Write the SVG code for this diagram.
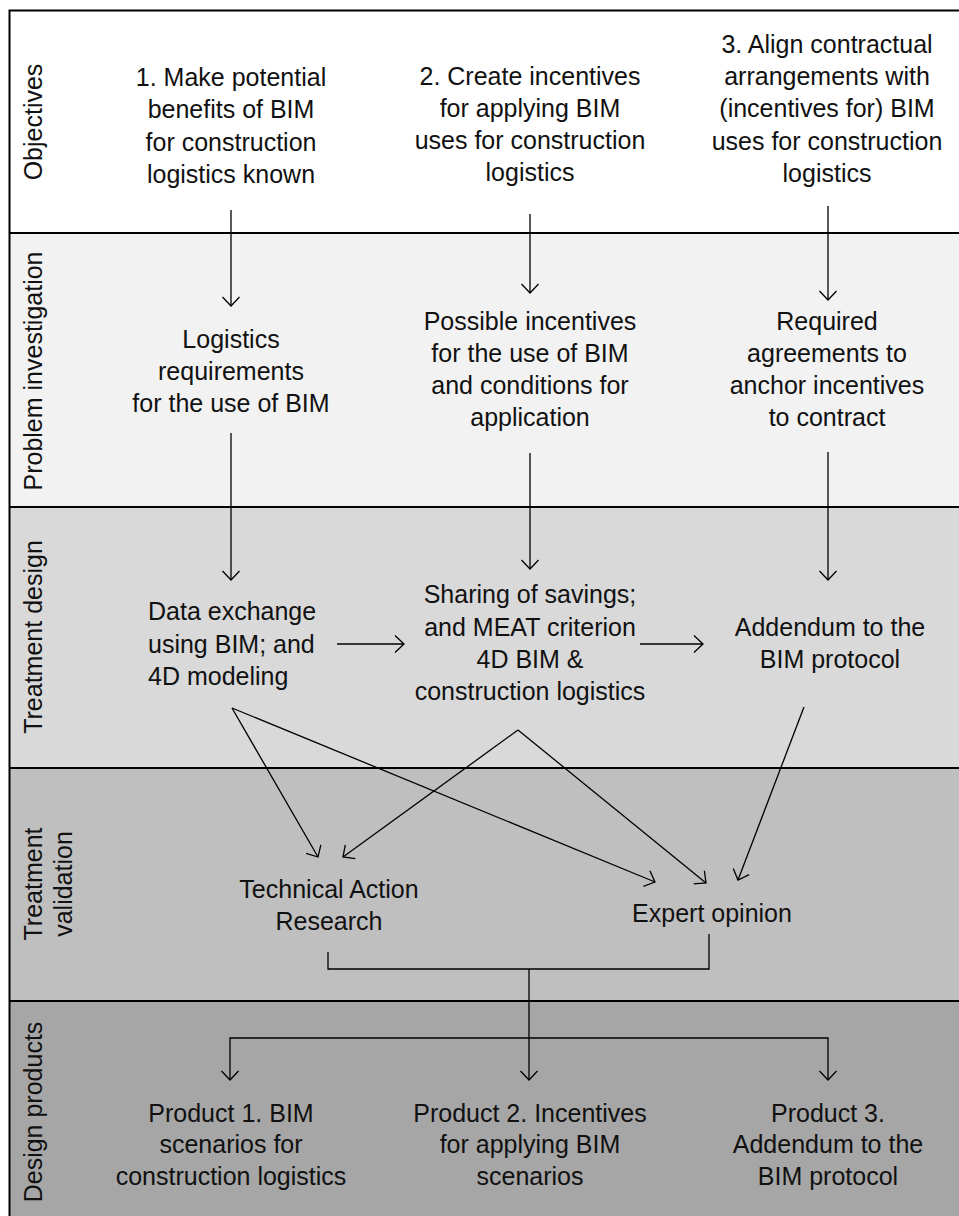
<svg xmlns="http://www.w3.org/2000/svg" width="959" height="1216" viewBox="0 0 959 1216">
  <style>
    .t { font-family: "Liberation Sans", Arial, sans-serif; font-size: 25px; fill: #111; text-anchor: middle; }
    .tl { font-family: "Liberation Sans", Arial, sans-serif; font-size: 25px; fill: #111; text-anchor: start; }
    .sep { stroke: #000; stroke-width: 2; fill: none; }
    .c { stroke: #000; stroke-width: 1.3; fill: none; }
    .a { stroke: #000; stroke-width: 1.3; fill: none; marker-end: url(#arr); }
  </style>
  <defs>
    <marker id="arr" markerUnits="userSpaceOnUse" viewBox="-12 -12 24 24" markerWidth="24" markerHeight="24" refX="0" refY="0" orient="auto">
      <path d="M-9,-8.5 L0,0 L-9,8.5" fill="none" stroke="#000" stroke-width="1.3"/>
    </marker>
  </defs>

  <rect width="959" height="1216" fill="#fff"/>

  <!-- horizontal bands -->
  <g id="bands">
    <rect x="10" y="10" width="960" height="223" fill="#ffffff"/>
    <rect x="10" y="233" width="960" height="274" fill="#f2f2f2"/>
    <rect x="10" y="507" width="960" height="261" fill="#d9d9d9"/>
    <rect x="10" y="768" width="960" height="233" fill="#bfbfbf"/>
    <rect x="10" y="1001" width="960" height="230" fill="#a6a6a6"/>
    <path class="sep" d="M9.5,1230 V10.5 H970"/>
    <path class="sep" d="M9.5,233 H970 M9.5,507 H970 M9.5,768 H970 M9.5,1001 H970"/>
  </g>

  <!-- band labels -->
  <g id="labels">
    <text class="t" transform="translate(42,122) rotate(-90)">Objectives</text>
    <text class="t" transform="translate(42,371) rotate(-90)">Problem investigation</text>
    <text class="t" transform="translate(42,637) rotate(-90)">Treatment design</text>
    <text class="t" transform="translate(42,884) rotate(-90)"><tspan x="0" y="0">Treatment</tspan><tspan x="0" y="30">validation</tspan></text>
    <text class="t" transform="translate(42,1112) rotate(-90)">Design products</text>
  </g>

  <!-- objectives -->
  <g id="obj1">
    <text class="t"><tspan x="231" y="86">1. Make potential</tspan><tspan x="231" y="118">benefits of BIM</tspan><tspan x="231" y="150.5">for construction</tspan><tspan x="231" y="183">logistics known</tspan></text>
  </g>
  <g id="obj2">
    <text class="t"><tspan x="530" y="85">2. Create incentives</tspan><tspan x="530" y="117">for applying BIM</tspan><tspan x="530" y="149">uses for construction</tspan><tspan x="530" y="181">logistics</tspan></text>
  </g>
  <g id="obj3">
    <text class="t"><tspan x="827" y="53">3. Align contractual</tspan><tspan x="827" y="85">arrangements with</tspan><tspan x="827" y="117">(incentives for) BIM</tspan><tspan x="827" y="149.5">uses for construction</tspan><tspan x="827" y="182">logistics</tspan></text>
  </g>

  <!-- problem investigation -->
  <g id="prob1">
    <text class="t"><tspan x="231" y="348">Logistics</tspan><tspan x="231" y="380">requirements</tspan><tspan x="231" y="412">for the use of BIM</tspan></text>
  </g>
  <g id="prob2">
    <text class="t"><tspan x="530" y="330">Possible incentives</tspan><tspan x="530" y="362">for the use of BIM</tspan><tspan x="530" y="394">and conditions for</tspan><tspan x="530" y="426">application</tspan></text>
  </g>
  <g id="prob3">
    <text class="t"><tspan x="827" y="330">Required</tspan><tspan x="827" y="362">agreements to</tspan><tspan x="827" y="394">anchor incentives</tspan><tspan x="827" y="426">to contract</tspan></text>
  </g>

  <!-- treatment design -->
  <g id="design1">
    <text class="tl"><tspan x="148" y="620">Data exchange</tspan><tspan x="148" y="653">using BIM; and</tspan><tspan x="148" y="685">4D modeling</tspan></text>
  </g>
  <g id="design2">
    <text class="t"><tspan x="530" y="603">Sharing of savings;</tspan><tspan x="530" y="636">and MEAT criterion</tspan><tspan x="530" y="668">4D BIM &amp;</tspan><tspan x="530" y="700">construction logistics</tspan></text>
  </g>
  <g id="design3">
    <text class="t"><tspan x="830" y="636">Addendum to the</tspan><tspan x="830" y="668">BIM protocol</tspan></text>
  </g>

  <!-- treatment validation -->
  <g id="tar">
    <text class="t"><tspan x="329" y="898">Technical Action</tspan><tspan x="329" y="930">Research</tspan></text>
  </g>
  <g id="expert">
    <text class="t" x="712" y="922">Expert opinion</text>
  </g>

  <!-- design products -->
  <g id="product1">
    <text class="t"><tspan x="231" y="1122">Product 1. BIM</tspan><tspan x="231" y="1153">scenarios for</tspan><tspan x="231" y="1185">construction logistics</tspan></text>
  </g>
  <g id="product2">
    <text class="t"><tspan x="530" y="1122">Product 2. Incentives</tspan><tspan x="530" y="1153">for applying BIM</tspan><tspan x="530" y="1185">scenarios</tspan></text>
  </g>
  <g id="product3">
    <text class="t"><tspan x="828" y="1122">Product 3.</tspan><tspan x="828" y="1153">Addendum to the</tspan><tspan x="828" y="1185">BIM protocol</tspan></text>
  </g>

  <!-- connectors -->
  <g id="connectors">
    <path class="a" d="M231,210 V306"/>
    <path class="a" d="M530,214 V293"/>
    <path class="a" d="M828,206 V300"/>
    <path class="a" d="M231,433 V580"/>
    <path class="a" d="M530,453 V569"/>
    <path class="a" d="M828,452 V580"/>
    <path class="a" d="M337,644 H404"/>
    <path class="a" d="M640,644 H703"/>
    <path class="a" d="M232,708 L318,857"/>
    <path class="a" d="M232,708 L655,882"/>
    <path class="a" d="M518,730 L343,857"/>
    <path class="a" d="M518,730 L706,883"/>
    <path class="a" d="M804,707 L738,880"/>
    <path class="c" d="M328,952 V969 H709 V934"/>
    <path class="a" d="M529,969 V1080"/>
    <path class="a" d="M529,1038 H230 V1080"/>
    <path class="a" d="M529,1038 H828 V1080"/>
  </g>
</svg>
